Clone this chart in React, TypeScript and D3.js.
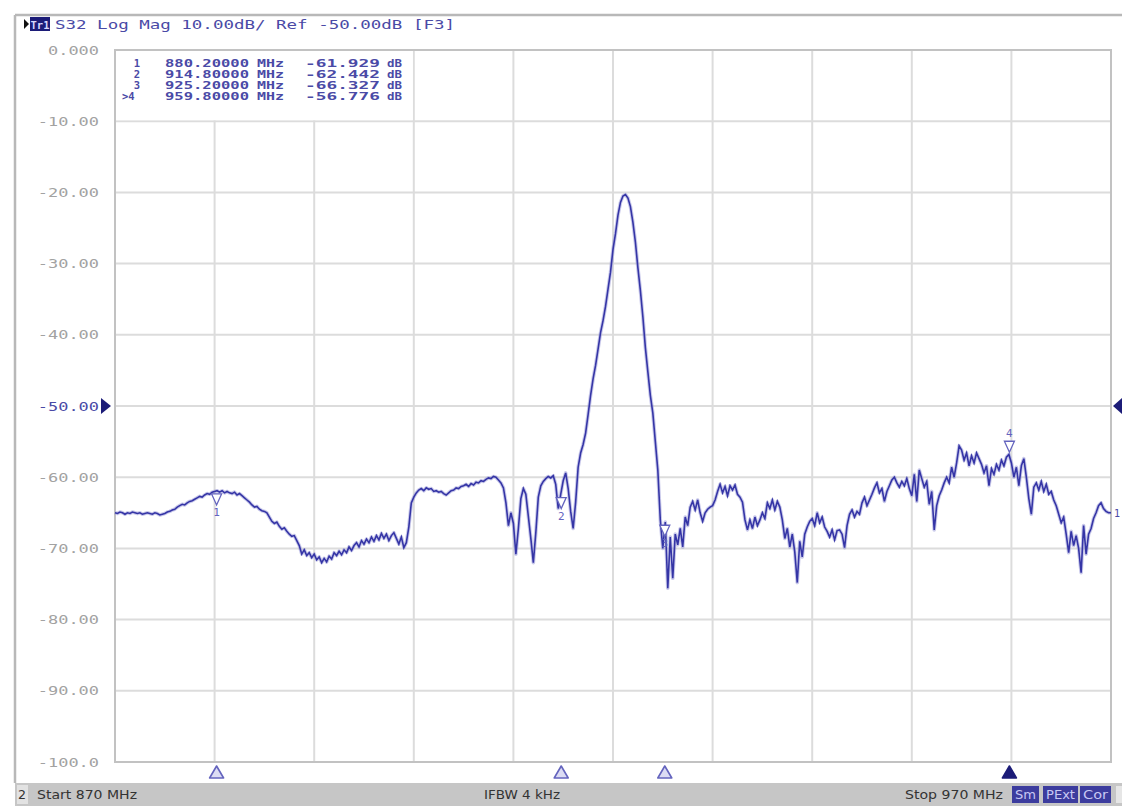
import { useEffect, useRef } from "react";
import * as d3 from "d3";

const WIDTH = 1122;
const HEIGHT = 806;

const FREQ_START = 870;
const FREQ_STOP = 970;
const FREQ_STEP = 0.25; // 401 sweep points

// S32 magnitude in dB, one value per sweep point (rows of 5 MHz)
const TRACE_DB = [
  -65.0, -65.1, -64.9, -65.0, -65.2, -65.0, -65.1, -64.9, -65.0, -65.1, -65.0, -65.2, -65.1, -65.0, -65.1, -65.2, -65.0, -65.1, -65.3, -65.2,
  -65.1, -64.9, -64.8, -64.6, -64.5, -64.2, -64.0, -63.8, -63.9, -63.6, -63.4, -63.3, -63.1, -62.9, -62.7, -62.8, -62.5, -62.3, -62.4, -62.1,
  -62.0, -61.9, -62.1, -61.9, -62.2, -62.0, -62.2, -62.3, -62.1, -62.5, -62.3, -62.6, -62.9, -63.2, -63.5, -63.9, -64.2, -64.1, -64.5, -64.7,
  -64.8, -65.0, -65.6, -66.2, -66.5, -66.3, -66.9, -67.3, -67.1, -67.6, -68.0, -68.3, -68.2, -68.9, -69.6, -70.8, -70.2, -71.0, -70.6, -71.3,
  -70.8, -71.6, -71.2, -72.0, -71.4, -71.9, -71.1, -71.5, -70.6, -71.0, -70.4, -70.9, -70.2, -70.6, -69.8, -70.3, -69.6, -69.2, -69.8, -68.9,
  -69.4, -68.7, -69.2, -68.4, -69.0, -68.2, -68.8, -67.9, -68.6, -68.0, -68.9, -68.2, -67.8, -68.6, -69.4, -68.4, -69.9, -69.2, -67.0, -63.6,
  -62.8, -62.2, -61.8, -61.6, -61.9, -61.5, -61.7, -61.6, -62.0, -61.9, -62.1, -62.0, -62.3, -62.5, -62.2, -61.9, -61.8, -61.5, -61.6, -61.3,
  -61.2, -61.0, -61.3, -60.9, -61.1, -60.7, -60.8, -60.5, -60.6, -60.3, -60.1, -60.2, -59.9, -60.0, -60.4, -60.8, -61.5, -63.6, -66.8, -65.0,
  -66.5, -70.8, -67.2, -63.0, -61.6, -62.4, -65.5, -68.6, -72.0, -67.8, -62.8, -61.2, -60.6, -60.2, -59.9, -60.1, -59.8, -61.0, -64.4, -62.4,
  -60.5, -59.4, -61.6, -64.8, -67.2, -63.5, -58.6, -56.6, -55.4, -53.8, -51.2, -48.5, -46.2, -44.3, -42.0, -39.7, -38.0, -36.0, -33.6, -31.2,
  -28.0, -25.8, -23.2, -21.4, -20.5, -20.3, -20.8, -22.0, -24.2, -27.0, -30.6, -33.8, -37.5, -41.8, -45.2, -48.5, -51.0, -55.0, -59.0, -66.0,
  -70.0, -66.3, -75.6, -68.4, -74.2, -68.0, -69.5, -67.2, -69.8, -65.6, -66.8, -64.2, -63.4, -64.6, -63.2, -65.0, -66.2, -65.0, -64.5, -64.2,
  -64.0, -63.2, -62.0, -61.0, -62.2, -61.3, -62.6, -61.2, -61.8, -61.1, -62.4, -62.8, -63.5, -66.0, -67.4, -66.0, -67.2, -65.6, -66.8, -66.0,
  -65.0, -65.8, -63.6, -64.4, -63.2, -64.6, -63.4, -64.2, -66.0, -68.6, -67.2, -69.8, -68.0, -70.5, -74.8, -69.0, -71.2, -68.0, -67.0, -66.2,
  -65.8, -66.8, -65.0, -66.4, -65.6, -67.0, -67.6, -68.4, -67.4, -68.8, -67.5, -67.4, -68.0, -69.9, -66.8, -65.2, -64.6, -65.6, -64.8, -65.2,
  -63.6, -62.8, -64.0, -63.2, -62.4, -61.5, -60.8, -62.2, -61.6, -63.4, -62.0, -61.2, -60.4, -60.0, -60.8, -61.4, -60.6, -61.2, -60.2, -61.6,
  -62.6, -59.6, -63.4, -59.0, -60.2, -61.4, -60.6, -63.8, -62.0, -67.4, -64.0, -62.6, -61.8, -60.8, -60.0, -60.8, -58.6, -60.0, -58.0, -55.6,
  -56.2, -57.6, -56.6, -58.4, -57.0, -58.0, -56.6, -57.4, -58.2, -59.4, -58.4, -61.2, -58.8, -59.6, -58.2, -59.0, -57.6, -58.4, -57.2, -56.8,
  -58.0, -60.0, -58.6, -61.2, -58.4, -57.4, -60.0, -63.0, -65.2, -61.4, -60.8, -61.8, -60.6, -62.0, -61.0, -62.4, -62.0, -63.2, -64.0, -65.2,
  -66.4, -65.6, -68.0, -70.6, -67.6, -69.6, -68.2, -70.0, -73.4, -66.8, -70.8, -68.0, -67.2, -65.8, -65.0, -64.0, -63.6, -64.4, -64.8, -65.0,
  -65.0,
];

const Y_TICKS = [0, -10, -20, -30, -40, -50, -60, -70, -80, -90, -100];
const Y_TICK_LABELS = ["0.000", "-10.00", "-20.00", "-30.00", "-40.00", "-50.00", "-60.00", "-70.00", "-80.00", "-90.00", "-100.0"];
const X_GRID = [870, 880, 890, 900, 910, 920, 930, 940, 950, 960, 970];
const REF_LEVEL = -50;

const MARKER_IDS = ["1", "2", "3", "4"];
const MARKER_FREQS = [880.2, 914.8, 925.2, 959.8];
const MARKER_VALUES = [-61.929, -62.442, -66.327, -56.776];
const ACTIVE_MARKER = 3;

const HEADER_TEXT = "S32 Log Mag 10.00dB/ Ref -50.00dB [F3]";
const STATUS_LEFT = "Start 870 MHz";
const STATUS_MID = "IFBW 4 kHz";
const STATUS_RIGHT = "Stop 970 MHz";
const STATUS_FLAGS = ["Sm", "PExt", "Cor"];

const COLORS = {
  frame: "#b8b8b8",
  grid: "#dcdcdc",
  border: "#c2c2c2",
  trace: "#3535a6",
  halo: "#9c9cd8",
  blueText: "#4a4aa6",
  tickText: "#a2a2a2",
  navy: "#1c1c78",
  markerOutline: "#6464be",
  markerFill: "#dcdcf4",
  statusBg: "#c6c6c6",
  statusText: "#333",
  flagBg: "#3c3c9e",
};

const plot = { left: 115, right: 1111, top: 50, bottom: 762 };
const MONO = "'DejaVu Sans Mono', monospace";
const NARROW = "'DejaVu Sans Condensed', 'Liberation Sans Narrow', 'DejaVu Sans', sans-serif";

export default function App() {
  const svgRef = useRef<SVGSVGElement>(null);

  useEffect(() => {
    if (!svgRef.current) return;
    const svg = d3.select(svgRef.current);
    svg.selectAll("*").remove();

    const x = d3.scaleLinear().domain([FREQ_START, FREQ_STOP]).range([plot.left, plot.right]);
    const y = d3.scaleLinear().domain([-100, 0]).range([plot.bottom, plot.top]);

    svg.append("rect").attr("width", WIDTH).attr("height", HEIGHT).attr("fill", "#fff");

    // ============ FRAME ============
    svg.append("line")
      .attr("x1", 15).attr("x2", WIDTH).attr("y1", 15).attr("y2", 15)
      .attr("stroke", COLORS.frame).attr("stroke-width", 2.5);
    svg.append("line")
      .attr("x1", 15).attr("x2", 15).attr("y1", 15).attr("y2", 783)
      .attr("stroke", COLORS.frame).attr("stroke-width", 2.5);

    // ============ HEADER ============
    svg.append("path")
      .attr("d", "M24,19 L29,24 L24,29 Z")
      .attr("fill", "#111");
    svg.append("rect")
      .attr("x", 30).attr("y", 17).attr("width", 20).attr("height", 14)
      .attr("fill", COLORS.navy);
    svg.append("text")
      .attr("x", 40).attr("y", 28.5)
      .attr("text-anchor", "middle")
      .attr("font-family", MONO).attr("font-size", 10.5).attr("font-weight", 700)
      .attr("fill", "#d8d8ff")
      .text("Tr1");
    svg.append("text")
      .attr("x", 55).attr("y", 28.5)
      .attr("font-family", MONO).attr("font-size", 13)
      .attr("fill", COLORS.blueText)
      .attr("textLength", 400).attr("lengthAdjust", "spacingAndGlyphs")
      .text(HEADER_TEXT);

    // ============ GRID ============
    const gridGroup = svg.append("g").attr("class", "grid-group");
    gridGroup.selectAll("line.vgrid")
      .data(X_GRID.slice(1, -1))
      .join("line")
      .attr("class", "vgrid")
      .attr("x1", (d) => x(d)).attr("x2", (d) => x(d))
      .attr("y1", plot.top).attr("y2", plot.bottom)
      .attr("stroke", COLORS.grid).attr("stroke-width", 2);
    gridGroup.selectAll("line.hgrid")
      .data(Y_TICKS.slice(1, -1))
      .join("line")
      .attr("class", "hgrid")
      .attr("x1", plot.left).attr("x2", plot.right)
      .attr("y1", (d) => y(d)).attr("y2", (d) => y(d))
      .attr("stroke", COLORS.grid).attr("stroke-width", 2);

    // marker table covers the grid in the top-left corner
    svg.append("rect")
      .attr("x", plot.left + 1).attr("y", plot.top + 1)
      .attr("width", x(900) - plot.left - 2).attr("height", y(-10) - plot.top - 2)
      .attr("fill", "#fff");

    svg.append("rect")
      .attr("x", plot.left).attr("y", plot.top)
      .attr("width", plot.right - plot.left).attr("height", plot.bottom - plot.top)
      .attr("fill", "none")
      .attr("stroke", COLORS.border).attr("stroke-width", 2);

    // ============ Y LABELS ============
    svg.append("g").selectAll("text")
      .data(Y_TICKS)
      .join("text")
      .attr("x", 99)
      .attr("y", (d) => y(d) + 4.5)
      .attr("text-anchor", "end")
      .attr("font-family", MONO).attr("font-size", 12.5)
      .attr("fill", (d) => (d === REF_LEVEL ? COLORS.blueText : COLORS.tickText))
      .attr("textLength", (_, i) => Y_TICK_LABELS[i].length * 10.2)
      .attr("lengthAdjust", "spacingAndGlyphs")
      .text((_, i) => Y_TICK_LABELS[i]);

    // reference level arrows
    const yr = y(REF_LEVEL);
    svg.append("path")
      .attr("d", `M101,${yr - 8} L111,${yr} L101,${yr + 8} Z`)
      .attr("fill", COLORS.navy);
    svg.append("path")
      .attr("d", `M${WIDTH},${yr - 8} L${WIDTH - 9},${yr} L${WIDTH},${yr + 8} Z`)
      .attr("fill", COLORS.navy);

    // ============ MARKER TABLE ============
    const table = svg.append("g").attr("class", "marker-table")
      .attr("font-family", MONO).attr("font-size", 10.5).attr("font-weight", 600)
      .attr("fill", COLORS.blueText);
    MARKER_IDS.forEach((id, i) => {
      const ty = 67 + i * 11;
      const active = i === ACTIVE_MARKER;
      table.append("text")
        .attr("x", active ? 122 : 140).attr("y", ty)
        .attr("text-anchor", active ? "start" : "end")
        .text(active ? `>${id}` : id);
      table.append("text")
        .attr("x", 165).attr("y", ty)
        .attr("textLength", 84).attr("lengthAdjust", "spacingAndGlyphs")
        .text(MARKER_FREQS[i].toFixed(5));
      table.append("text")
        .attr("x", 257).attr("y", ty)
        .attr("textLength", 27).attr("lengthAdjust", "spacingAndGlyphs")
        .text("MHz");
      table.append("text")
        .attr("x", 305).attr("y", ty)
        .attr("textLength", 75).attr("lengthAdjust", "spacingAndGlyphs")
        .text(MARKER_VALUES[i].toFixed(3));
      table.append("text")
        .attr("x", 387).attr("y", ty)
        .attr("textLength", 15).attr("lengthAdjust", "spacingAndGlyphs")
        .text("dB");
    });

    // ============ TRACE ============
    const points = TRACE_DB.map((v, i) => [FREQ_START + i * FREQ_STEP, v] as [number, number]);
    const line = d3.line<[number, number]>().x((d) => x(d[0])).y((d) => y(d[1]));
    svg.append("path")
      .datum(points)
      .attr("d", line)
      .attr("fill", "none")
      .attr("stroke", COLORS.halo).attr("stroke-width", 3.6)
      .attr("stroke-opacity", 0.55)
      .attr("stroke-linejoin", "round");
    svg.append("path")
      .datum(points)
      .attr("d", line)
      .attr("fill", "none")
      .attr("stroke", COLORS.trace).attr("stroke-width", 1.6)
      .attr("stroke-linejoin", "miter");

    // trace label at the right edge
    svg.append("text")
      .attr("x", plot.right + 3).attr("y", y(TRACE_DB[TRACE_DB.length - 1]) + 4)
      .attr("font-family", MONO).attr("font-size", 10)
      .attr("fill", COLORS.blueText)
      .text("1");

    // ============ MARKERS ============
    const markerGroup = svg.append("g").attr("class", "markers");
    MARKER_FREQS.forEach((f, i) => {
      const mx = x(f);
      const my = y(MARKER_VALUES[i]);
      if (i === ACTIVE_MARKER) {
        markerGroup.append("path")
          .attr("d", `M${mx - 5},${my - 13} L${mx + 5},${my - 13} L${mx},${my - 2} Z`)
          .attr("fill", "#fff").attr("stroke", COLORS.markerOutline).attr("stroke-width", 1.3);
        markerGroup.append("text")
          .attr("x", mx).attr("y", my - 17)
          .attr("text-anchor", "middle")
          .attr("font-family", MONO).attr("font-size", 11)
          .attr("fill", COLORS.markerOutline)
          .text(MARKER_IDS[i]);
      } else {
        markerGroup.append("path")
          .attr("d", `M${mx - 5},${my + 3} L${mx + 5},${my + 3} L${mx},${my + 14} Z`)
          .attr("fill", "#fff").attr("stroke", COLORS.markerOutline).attr("stroke-width", 1.3);
        markerGroup.append("text")
          .attr("x", mx).attr("y", my + 25)
          .attr("text-anchor", "middle")
          .attr("font-family", MONO).attr("font-size", 11)
          .attr("fill", COLORS.markerOutline)
          .text(MARKER_IDS[i]);
      }

      // position markers below the plot
      const active = i === ACTIVE_MARKER;
      markerGroup.append("path")
        .attr("d", `M${mx - 7},778 L${mx + 7},778 L${mx},766 Z`)
        .attr("fill", active ? COLORS.navy : COLORS.markerFill)
        .attr("stroke", active ? COLORS.navy : COLORS.markerOutline)
        .attr("stroke-width", 1.6)
        .attr("stroke-linejoin", "round");
    });

    // ============ STATUS BAR ============
    const status = svg.append("g").attr("class", "status-bar");
    status.append("rect")
      .attr("x", 15).attr("y", 783).attr("width", WIDTH - 15).attr("height", HEIGHT - 783)
      .attr("fill", COLORS.statusBg);
    status.append("rect")
      .attr("x", 17).attr("y", 785).attr("width", 11).attr("height", 19)
      .attr("fill", "#e2e2e2");
    const statusText = (tx: number, len: number, s: string) =>
      status.append("text")
        .attr("x", tx).attr("y", 799)
        .attr("font-family", NARROW).attr("font-size", 12.5)
        .attr("fill", COLORS.statusText)
        .attr("textLength", len).attr("lengthAdjust", "spacingAndGlyphs")
        .text(s);
    statusText(18, 8, "2");
    statusText(37, 100, STATUS_LEFT);
    statusText(484, 76, STATUS_MID);
    statusText(905, 98, STATUS_RIGHT);

    const flagX = [1012, 1043, 1080];
    const flagW = [27, 35, 31];
    STATUS_FLAGS.forEach((flag, i) => {
      status.append("rect")
        .attr("x", flagX[i]).attr("y", 786).attr("width", flagW[i]).attr("height", 17)
        .attr("fill", COLORS.flagBg);
      status.append("text")
        .attr("x", flagX[i] + flagW[i] / 2).attr("y", 799)
        .attr("text-anchor", "middle")
        .attr("font-family", NARROW).attr("font-size", 12)
        .attr("fill", "#c8c8f4")
        .attr("textLength", flagW[i] - 6).attr("lengthAdjust", "spacingAndGlyphs")
        .text(flag);
    });
    status.append("rect")
      .attr("x", 1116).attr("y", 786).attr("width", 6).attr("height", 17)
      .attr("fill", "#e6e6e6");
  }, []);

  return (
    <div style={{ position: "absolute", left: 0, top: 0, width: WIDTH, height: HEIGHT }}>
      <svg ref={svgRef} width={WIDTH} height={HEIGHT} style={{ display: "block" }} />
    </div>
  );
}
